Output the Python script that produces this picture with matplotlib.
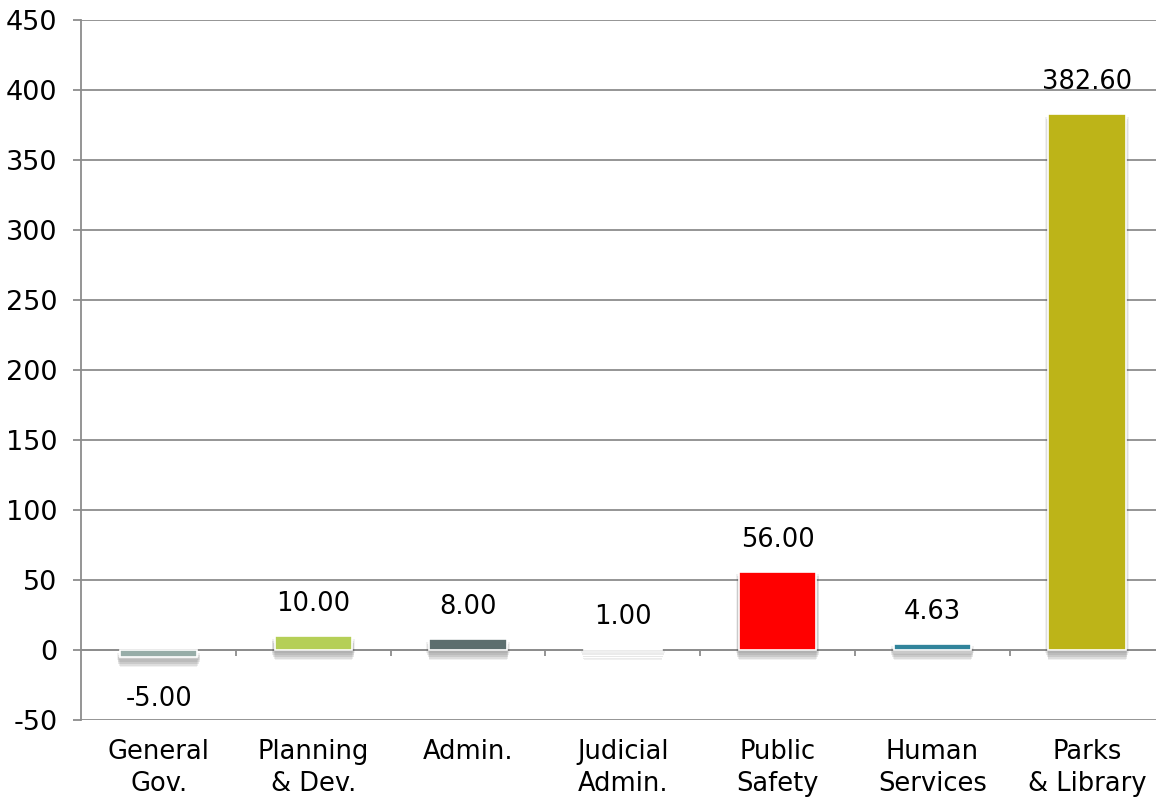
import numpy as np
import matplotlib
matplotlib.use('Agg')
import matplotlib.pyplot as plt

categories = ['General\nGov.', 'Planning\n& Dev.', 'Admin.', 'Judicial\nAdmin.',
              'Public\nSafety', 'Human\nServices', 'Parks\n& Library']
values = [-5.00, 10.00, 8.00, 1.00, 56.00, 4.63, 382.60]
bar_colors = ['#97ADA8', '#B5CF57', '#5C6E6E', '#FFFFFF', '#FF0000', '#31849B', '#BDB418']
yticks = list(range(-50, 451, 50))

plt.rcParams['font.family'] = ['DejaVu Sans']
plt.rcParams['axes.unicode_minus'] = False
grid_col = '#8C8C8C'
fs = 18.5

fig = plt.figure(figsize=(11.56, 7.99), dpi=100)
# plot area runs a little past the right edge, like the original
ax = fig.add_axes([0.0703, 0.0989, 0.937, 0.876])

x = np.arange(len(categories))
width = 0.5

# soft drop shadow under each bar
for off, alpha, grow in [(2.0, 0.08, 0.04), (3.5, 0.10, 0.03), (5.0, 0.12, 0.02),
                         (6.5, 0.10, 0.01), (7.5, 0.08, 0.0)]:
    bottoms = [min(v, 0) - off for v in values]
    heights = [abs(v) for v in values]
    ax.bar(x, heights, width=width + grow, bottom=bottoms, color='#404040',
           alpha=alpha, linewidth=0, zorder=2)

bars = ax.bar(x, values, width=width, color=bar_colors, edgecolor='white',
              linewidth=1.2, zorder=3)

for xi, v in zip(x, values):
    if v >= 0:
        ax.annotate(f'{v:.2f}', (xi, v), xytext=(0, 23), textcoords='offset points',
                    ha='center', va='center', fontsize=fs, zorder=4)
    else:
        ax.annotate(f'{v:.2f}', (xi, v), xytext=(0, -30), textcoords='offset points',
                    ha='center', va='center', fontsize=fs, zorder=4)

ax.set_ylim(-50, 450)
ax.set_xlim(-0.5, len(categories) - 0.5)
ax.set_yticks(yticks)
ax.yaxis.grid(True, color=grid_col, linewidth=1.3, zorder=0)
ax.set_axisbelow(True)

# zero line with category separators
ax.axhline(0, color=grid_col, linewidth=1.3, zorder=1)
ax.vlines(np.arange(0.5, len(categories) - 0.5, 1.0), -4, 0, color=grid_col,
          linewidth=1.3, zorder=1)

ax.set_xticks(x)
ax.set_xticklabels(categories, fontsize=fs, linespacing=1.3)
ax.tick_params(axis='x', length=0, pad=14)
ax.tick_params(axis='y', length=6, color=grid_col, width=1.3, labelsize=19.5, pad=11)

for s in ['top', 'right', 'bottom']:
    ax.spines[s].set_visible(False)
ax.spines['left'].set_color(grid_col)
ax.spines['left'].set_linewidth(1.3)

fig.savefig('out.png', dpi=100)
